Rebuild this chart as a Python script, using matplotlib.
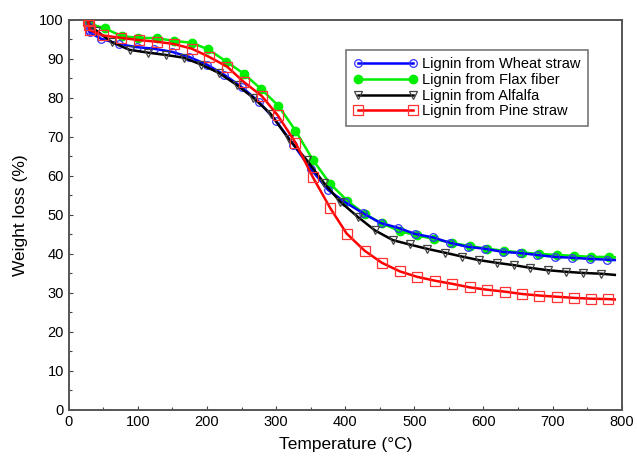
import matplotlib
matplotlib.use("Agg")
import matplotlib.pyplot as plt
from matplotlib.ticker import MultipleLocator

plt.rcParams['font.family'] = ['Liberation Sans', 'DejaVu Sans']

# --------- data -------- #
wheat_t = [28, 29, 30, 46, 72, 98, 123, 149, 174, 200, 225, 250, 275, 300, 325, 350,
           375, 400, 425, 451, 476, 501, 527, 552, 577, 602, 628, 653, 678, 703, 728,
           754, 779, 790]
wheat_w = [98.5, 97.5, 96.8, 95.2, 93.8, 93.0, 92.6, 91.8, 90.5, 88.5, 85.9, 82.8, 79.0,
           74.0, 68.0, 61.8, 56.4, 53.2, 50.5, 47.9, 46.7, 45.1, 44.2, 42.8, 41.8, 41.3,
           40.5, 40.2, 39.7, 39.2, 39.0, 38.7, 38.5, 38.4]

flax_t = [28, 30, 52, 77, 100, 127, 152, 178, 202, 228, 253, 278, 303, 328, 353, 378,
          403, 428, 453, 479, 504, 529, 554, 580, 605, 630, 656, 681, 706, 731, 756,
          781, 790]
flax_w = [100.0, 99.0, 97.8, 95.8, 95.4, 95.3, 94.6, 94.1, 92.4, 89.3, 86.2, 82.3, 78.0,
          71.6, 64.1, 58.0, 53.6, 50.2, 47.8, 45.8, 44.7, 43.8, 42.8, 42.0, 41.3, 40.8,
          40.3, 40.0, 39.7, 39.5, 39.2, 39.2, 39.1]

alfalfa_t = [28, 30, 40, 62, 88, 114, 140, 166, 192, 217, 243, 267, 292, 318, 344, 369,
             393, 418, 443, 469, 493, 518, 544, 569, 593, 619, 644, 668, 693, 719, 744,
             770, 790]
alfalfa_w = [99.8, 98.6, 97.2, 94.3, 92.3, 91.6, 91.0, 90.3, 88.5, 86.4, 83.3, 80.0, 75.9,
             69.5, 64.1, 58.2, 53.3, 49.5, 46.0, 43.5, 42.4, 41.3, 40.3, 39.3, 38.4, 37.7,
             37.1, 36.4, 35.8, 35.4, 35.1, 34.9, 34.6]

pine_t = [28, 29, 30, 49, 75, 101, 127, 152, 178, 203, 229, 253, 279, 302, 328, 353, 378,
          402, 428, 453, 479, 504, 530, 555, 580, 605, 631, 656, 681, 706, 731, 755, 780,
          790]
pine_w = [99.8, 98.6, 97.4, 96.0, 95.4, 94.8, 94.4, 93.8, 92.6, 90.5, 88.0, 84.1, 80.5,
          75.6, 68.5, 59.7, 51.8, 45.2, 40.8, 37.7, 35.5, 34.1, 33.1, 32.3, 31.4, 30.8,
          30.3, 29.7, 29.3, 29.0, 28.7, 28.5, 28.4, 28.3]

labels = ['Lignin from Wheat straw', 'Lignin from Flax fiber',
          'Lignin from Alfalfa', 'Lignin from Pine straw']

fig = plt.figure(figsize=(6.37, 4.61), dpi=100)
ax = fig.add_axes([0.108, 0.111, 0.868, 0.846])

# last point is only the line end, no marker
ax.plot(wheat_t, wheat_w, color='#0000ff', lw=1.8, marker='o', ms=5.5,
        mfc='none', mec='#3333ff', mew=0.9, markevery=list(range(len(wheat_t) - 1)),
        label=labels[0], zorder=3)
ax.plot(flax_t, flax_w, color='#00ee00', lw=1.8, marker='o', ms=6,
        mfc='#00ee00', mec='#00ee00', markevery=list(range(len(flax_t) - 1)),
        label=labels[1], zorder=2)
ax.plot(alfalfa_t, alfalfa_w, color='black', lw=1.8, marker='v', ms=6,
        mfc='none', mec='#444444', mew=0.9, markevery=list(range(len(alfalfa_t) - 1)),
        label=labels[2], zorder=4)
ax.plot(pine_t, pine_w, color='#ff0000', lw=1.8, marker='s', ms=7,
        mfc='none', mec='#ff3333', mew=0.9, markevery=list(range(len(pine_t) - 1)),
        label=labels[3], zorder=5)

ax.set_xlim(0, 800)
ax.set_ylim(0, 100)
ax.xaxis.set_major_locator(MultipleLocator(100))
ax.xaxis.set_minor_locator(MultipleLocator(50))
ax.yaxis.set_major_locator(MultipleLocator(10))
ax.yaxis.set_minor_locator(MultipleLocator(5))
ax.tick_params(which='both', direction='in', colors='#444444', labelcolor='black',
               labelsize=10.5, width=0.8)
ax.tick_params(which='major', length=3)
ax.tick_params(which='minor', length=2)
for s in ax.spines.values():
    s.set_color('#555555')
    s.set_linewidth(1.4)

ax.set_xlabel('Temperature (°C)', fontsize=12.5, labelpad=6)
ax.set_ylabel('Weight loss (%)', fontsize=12.5, labelpad=8)

leg = ax.legend(loc='upper right', bbox_to_anchor=(0.9385, 0.923), fontsize=10.5,
                frameon=True, fancybox=False, edgecolor='#555555', handlelength=4.4,
                handletextpad=0.3, borderpad=0.5, labelspacing=0.12, borderaxespad=0,
                numpoints=2)
leg.get_frame().set_linewidth(1.2)

fig.savefig('out.png', dpi=100)
